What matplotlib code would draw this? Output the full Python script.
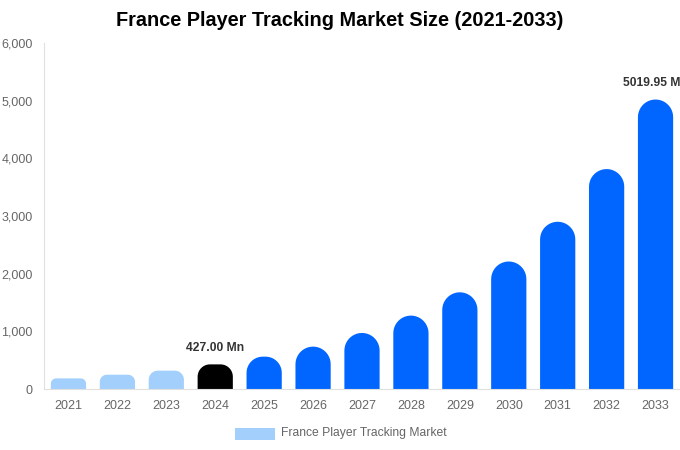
import matplotlib
matplotlib.use("Agg")
import matplotlib.pyplot as plt
from matplotlib.path import Path
from matplotlib.patches import PathPatch, Rectangle
import numpy as np

plt.rcParams['font.family'] = ['Liberation Sans', 'DejaVu Sans']

# data
years = ["2021", "2022", "2023", "2024", "2025", "2026", "2027",
         "2028", "2029", "2030", "2031", "2032", "2033"]
market_size = [184, 248, 318, 427.00, 561, 735, 972,
               1273, 1677, 2211, 2900, 3814, 5019.95]
labelled = {3: "427.00 Mn", 12: "5019.95 Mn"}
y_ticks = [0, 1000, 2000, 3000, 4000, 5000, 6000]

light_blue = "#a3cffc"
dark = "#000000"
blue = "#0066ff"

def bar_colour(i):
    if i < 3:
        return light_blue
    if i == 3:
        return dark
    return blue

fig = plt.figure(figsize=(6.8, 4.5), dpi=100)
ax = fig.add_axes([44 / 680, (450 - 389) / 450, 636 / 680, 346 / 450])
ax.set_xlim(-0.5, len(years) - 0.5)
ax.set_ylim(0, 6000)

# pixels per data unit, for round tops
px_x = 636 / len(years)
px_y = 346 / 6000

bar_w = 0.72
for i, v in enumerate(market_size):
    xl, xr = i - bar_w / 2, i + bar_w / 2
    h_px = v * px_y
    r_px = min(bar_w * px_x / 2, h_px / 2)
    rx, ry = r_px / px_x, r_px / px_y
    t1 = np.linspace(np.pi, np.pi / 2, 12)
    t2 = np.linspace(np.pi / 2, 0, 12)
    verts = [(xl, 0), (xl, v - ry)]
    verts += [(xl + rx + rx * np.cos(t), v - ry + ry * np.sin(t)) for t in t1]
    verts += [(xr - rx + rx * np.cos(t), v - ry + ry * np.sin(t)) for t in t2]
    verts += [(xr, 0), (xl, 0)]
    codes = [Path.MOVETO] + [Path.LINETO] * (len(verts) - 2) + [Path.CLOSEPOLY]
    ax.add_patch(PathPatch(Path(verts, codes), facecolor=bar_colour(i),
                           edgecolor="none"))
    if i in labelled:
        ax.annotate(labelled[i], (i, v), xytext=(0, 12), textcoords="offset points",
                    ha="center", va="center", fontsize=8.7, fontweight="bold",
                    color="#333333", annotation_clip=False)

ax.set_xticks(range(len(years)))
ax.set_xticklabels(years)
ax.set_yticks(y_ticks)
ax.set_yticklabels([f"{t:,}" for t in y_ticks])
ax.tick_params(axis="both", length=0, labelsize=9, colors="#666666")
ax.tick_params(axis="x", pad=8)
ax.tick_params(axis="y", pad=8)
for s in ["top", "right"]:
    ax.spines[s].set_visible(False)
ax.spines["left"].set_color("#e0e0e0")
ax.spines["bottom"].set_color("#e0e0e0")

fig.text(0.5, 1 - 21 / 450, "France Player Tracking Market Size (2021-2033)",
         ha="center", va="center", fontsize=14.3, fontweight="bold", color="#000000")

# legend
fig.patches.append(Rectangle((235 / 680, 1 - 440 / 450), 40 / 680, 12 / 450,
                             transform=fig.transFigure, facecolor=light_blue,
                             edgecolor="none"))
fig.text(281 / 680, 1 - 433 / 450, "France Player Tracking Market",
         ha="left", va="center", fontsize=8.7, color="#666666")

fig.savefig("out.png", dpi=100)
